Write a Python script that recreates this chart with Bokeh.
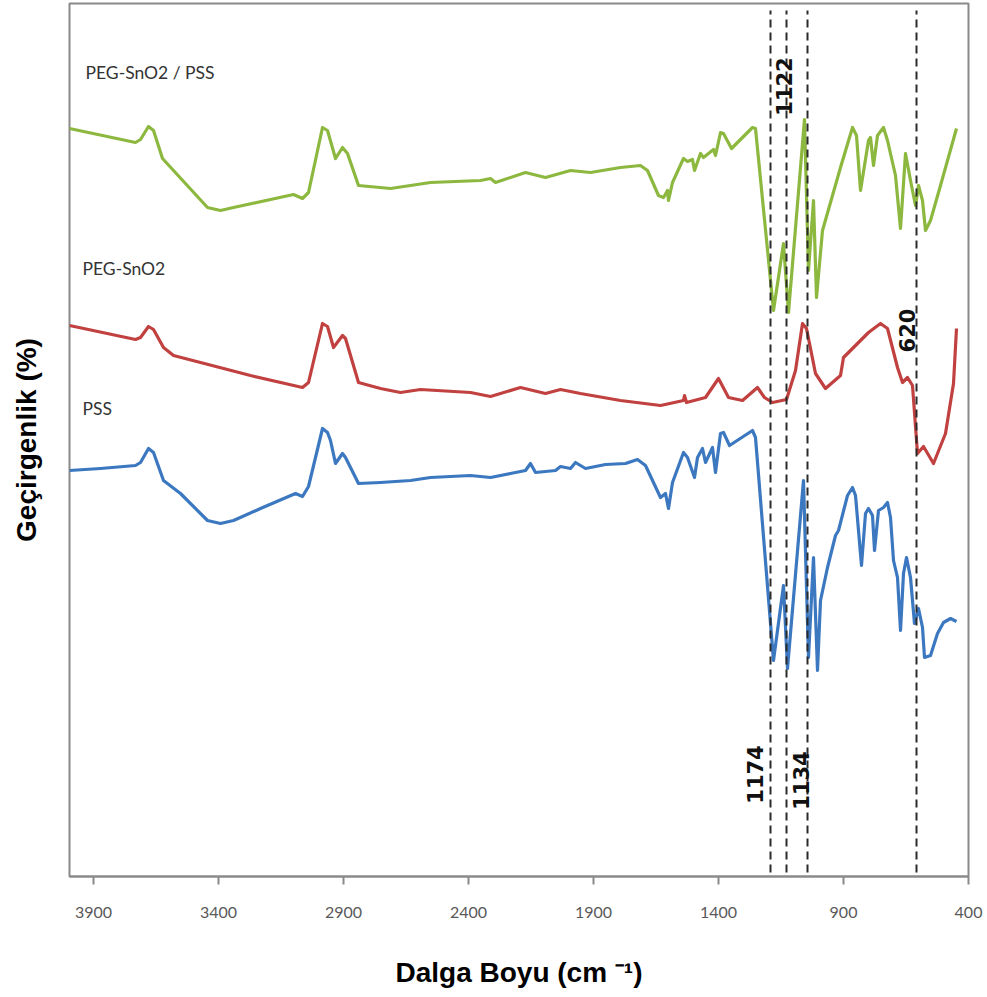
import math
from bokeh.plotting import figure
from bokeh.models import Range1d, FixedTicker
from bokeh.core.properties import value
from bokeh.embed import file_html
from bokeh.resources import INLINE

# ---- data (wavenumber cm-1, transmittance in arbitrary offset units) ----
green_x = [3996, 3732, 3712, 3680, 3660, 3624, 3580, 3444, 3392, 3340, 3100, 3064, 3040, 2984, 2964,
           2932, 2904, 2884, 2840, 2712, 2552, 2352, 2312, 2292, 2172, 2092, 1992, 1912, 1792, 1712,
           1684, 1640, 1620, 1604, 1600, 1584, 1540, 1524, 1504, 1496, 1472, 1460, 1420, 1412, 1392,
           1380, 1348, 1264, 1252, 1180, 1140, 1120, 1056, 1040, 1020, 1008, 984, 912, 864, 848, 832,
           800, 792, 780, 764, 740, 724, 692, 672, 652, 632, 612, 600, 584, 572, 552, 512, 448]
green_y = [748, 734, 737, 750, 746, 718, 706, 669, 666, 669, 682, 678, 684, 749, 746,
           718, 729, 723, 691, 688, 694, 696, 698, 694, 704, 699, 706, 704, 709, 711,
           706, 681, 679, 686, 676, 694, 718, 715, 717, 706, 723, 719, 727, 721, 744,
           743, 728, 749, 748, 566, 633, 564, 757, 606, 676, 579, 646, 709, 749, 741, 686,
           736, 739, 711, 741, 749, 736, 701, 648, 723, 696, 671, 691, 676, 646, 656, 691, 748]

red_x = [3996, 3732, 3712, 3680, 3660, 3620, 3580, 3472, 3272, 3064, 3040, 2984, 2964, 2940, 2904,
         2892, 2840, 2752, 2672, 2592, 2392, 2312, 2192, 2092, 2032, 1952, 1792, 1632, 1540, 1536,
         1528, 1452, 1400, 1360, 1304, 1244, 1216, 1184, 1128, 1092, 1064, 1048, 1012, 972, 912,
         900, 852, 800, 752, 724, 684, 664, 644, 624, 604, 580, 540, 492, 460, 448]
red_y = [551, 537, 539, 550, 547, 529, 521, 514, 501, 489, 494, 553, 550, 529, 541,
         538, 494, 488, 484, 487, 484, 480, 489, 483, 487, 483, 476, 471, 476, 481,
         474, 479, 498, 479, 476, 489, 479, 474, 477, 506, 553, 548, 503, 488, 501,
         519, 531, 544, 553, 548, 509, 494, 499, 491, 423, 430, 413, 443, 493, 548]

blue_x = [3996, 3872, 3732, 3712, 3680, 3660, 3620, 3552, 3444, 3392, 3340, 3232, 3092, 3064, 3040,
          2984, 2964, 2952, 2932, 2904, 2892, 2872, 2840, 2752, 2632, 2552, 2392, 2312, 2232, 2172,
          2152, 2132, 2052, 2032, 1992, 1972, 1932, 1852, 1772, 1724, 1692, 1632, 1612, 1600, 1584,
          1540, 1524, 1496, 1484, 1464, 1452, 1424, 1412, 1392, 1380, 1356, 1264, 1252, 1180, 1140,
          1124, 1060, 1040, 1020, 1004, 992, 964, 932, 920, 884, 864, 852, 828, 812, 800, 784, 776,
          760, 740, 724, 712, 700, 684, 672, 660, 648, 632, 616, 600, 584, 576, 552, 524, 500,
          472, 448]
blue_y = [406, 408, 411, 414, 428, 424, 396, 383, 356, 353, 356, 368, 383, 380, 390,
          448, 444, 436, 413, 423, 419, 409, 393, 394, 396, 399, 401, 399, 403, 406,
          413, 404, 406, 410, 408, 414, 408, 412, 413, 417, 411, 379, 383, 368, 394,
          424, 419, 399, 419, 428, 414, 429, 404, 443, 444, 431, 446, 439, 216, 291,
          208, 396, 219, 319, 206, 276, 309, 341, 346, 381, 389, 381, 311, 363, 368, 361, 326,
          366, 369, 374, 359, 316, 299, 246, 303, 319, 299, 253, 268, 249, 219, 221, 243, 254,
          258, 255]

series_names = ["PEG-SnO2 / PSS", "PEG-SnO2", "PSS"]
series_colors = ["#8DB83F", "#C0413F", "#3B78C0"]
name_x = [3932, 3944, 3944]
name_y = [804, 608, 468]

peak_lines = [1192, 1128, 1044, 608]
peak_labels = ["1122", "620", "1174", "1134"]
peak_label_x = [1140, 648, 1256, 1072]
peak_label_y = [790, 546, 102, 96]

x_ticks = [3900, 3400, 2900, 2400, 1900, 1400, 900, 400]

# ---- figure ----
p = figure(width=987, height=997, output_backend="svg", toolbar_location=None,
           x_range=Range1d(3996, 400), y_range=Range1d(0, 873),
           min_border_left=69, min_border_right=19, min_border_top=3, min_border_bottom=121)
p.background_fill_color = "white"
p.border_fill_color = "white"
p.grid.visible = False
p.outline_line_color = "#8a8a8a"
p.outline_line_width = 2

ax = p.xaxis[0]
ax.ticker = FixedTicker(ticks=x_ticks)
ax.axis_line_color = "#8a8a8a"
ax.axis_line_width = 2
ax.major_tick_line_color = "#8a8a8a"
ax.major_tick_line_width = 2
ax.major_tick_out = 8
ax.major_tick_in = 0
ax.minor_tick_out = 0
ax.minor_tick_in = 0
ax.major_label_text_font = "Lato"
ax.major_label_text_font_size = "16px"
ax.major_label_text_color = "#595959"
ax.major_label_standoff = 22
ax.axis_label = "Dalga Boyu (cm \u207b\u00b9)"
ax.axis_label_text_font = "Liberation Sans"
ax.axis_label_text_font_style = "bold"
ax.axis_label_text_font_size = "28px"
ax.axis_label_text_color = "#000000"
ax.axis_label_standoff = 36

ay = p.yaxis[0]
ay.ticker = FixedTicker(ticks=[])
ay.axis_line_color = None
ay.major_tick_out = 0
ay.major_tick_in = 0
ay.minor_tick_out = 0
ay.minor_tick_in = 0
ay.major_label_text_font_size = "0px"
ay.axis_label = "Geçirgenlik (%)"
ay.axis_label_text_font = "Liberation Sans"
ay.axis_label_text_font_style = "bold"
ay.axis_label_text_font_size = "28px"
ay.axis_label_text_color = "#000000"
ay.axis_label_standoff = 28

for xs, ys, c in [(green_x, green_y, series_colors[0]),
                  (red_x, red_y, series_colors[1]),
                  (blue_x, blue_y, series_colors[2])]:
    p.line(xs, ys, line_color=c, line_width=3.2, line_join="round")

p.segment(x0=peak_lines, y0=[4] * len(peak_lines), x1=peak_lines, y1=[866] * len(peak_lines),
          line_color="#2a2a2a", line_width=2, line_dash="8 5")

p.text(x=name_x, y=name_y, text=series_names, text_font=value("Lato"),
       text_font_size="17.5px", text_color="#333333", text_baseline="middle", text_align="left")

p.text(x=peak_label_x, y=peak_label_y, text=peak_labels, angle=math.pi / 2,
       text_font=value("DejaVu Sans"), text_font_style="bold", text_font_size="21px",
       text_color="#111111", text_baseline="middle", text_align="center")

open("out.html", "w").write(file_html(p, INLINE))
